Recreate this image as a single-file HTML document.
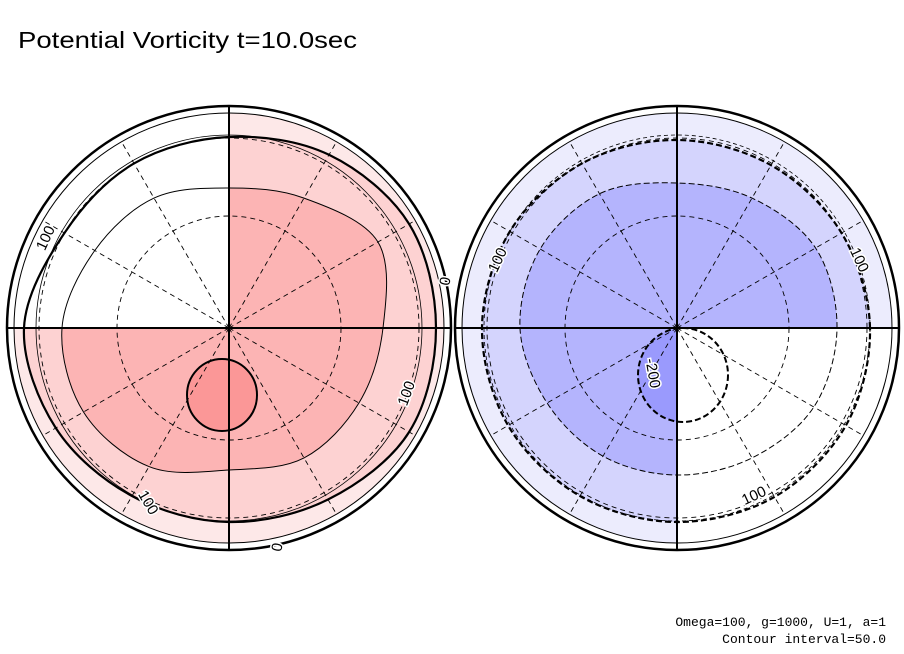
<!DOCTYPE html>
<html><head><meta charset="utf-8"><style>
body{margin:0;background:#fff;width:904px;height:654px;overflow:hidden;font-family:"Liberation Sans",sans-serif}
svg{display:block}
</style></head><body>
<svg id="chart" width="904" height="654" xmlns="http://www.w3.org/2000/svg">
<text x="18" y="48" font-size="23" textLength="339" lengthAdjust="spacingAndGlyphs" font-family="Liberation Sans, sans-serif">Potential Vorticity t=10.0sec</text>
<text x="886" y="626" font-size="13" text-anchor="end" font-family="Liberation Mono, monospace">Omega=100, g=1000, U=1, a=1</text>
<text x="886" y="643" font-size="13" text-anchor="end" font-family="Liberation Mono, monospace">Contour interval=50.0</text>
<g id="left"></g>
<g id="right"></g>
</svg>
<script>
// contour radii (px) sampled every 30 degrees starting east, going counter-clockwise
const angles=[0,30,60,90,120,150,180,210,240,270,300,330];
const leftLevels=[0,100];
const leftC0=[207,208,200,191,190,190,205,200,194,194,198,208];
const leftC100=[154,172,150,140,150,155,167,168,160,142,150,150];
const leftBlob={cx:-7,cy:-67,rx:35,ry:36};
const rightLevels=[0,-100,-200];
const rightC0=[193,190,188,188,190,193,195,195,194,194,195,195];
const rightC100=[160,160,150,145,155,158,157,150,148,147,150,158];
const rightLow={cx:6,cy:-47,rx:45,ry:47};
const NS="http://www.w3.org/2000/svg";
const R=222;
function px(cx,r,a){return cx+r*Math.cos(a*Math.PI/180);}
function py(cy,r,a){return cy-r*Math.sin(a*Math.PI/180);}
function smooth(cx,cy,radii){
  const p=radii.map((r,i)=>[px(cx,r,angles[i]),py(cy,r,angles[i])]);
  const n=p.length;let d=`M${p[0][0]},${p[0][1]}`;
  for(let i=0;i<n;i++){const p0=p[(i-1+n)%n],p1=p[i],p2=p[(i+1)%n],p3=p[(i+2)%n];
    d+=`C${p1[0]+(p2[0]-p0[0])/6},${p1[1]+(p2[1]-p0[1])/6} ${p2[0]-(p3[0]-p1[0])/6},${p2[1]-(p3[1]-p1[1])/6} ${p2[0]},${p2[1]}`;}
  return d+'Z';
}
function el(parent,tag,attrs){const e=document.createElementNS(NS,tag);for(const k in attrs)e.setAttribute(k,attrs[k]);parent.appendChild(e);return e;}
function panel(g,cx,cy,colors,c0,c100,blob,whiteQuad,dashed,labels){
  const cid='clip'+cx;
  const cp=el(g,'clipPath',{id:cid});el(cp,'circle',{cx:cx,cy:cy,r:215});
  const inner=el(g,'g',{'clip-path':`url(#${cid})`});
  let e=el(inner,'circle',{cx:cx,cy:cy,r:215,fill:colors[0]});
  
  
  e=el(inner,'path',{d:smooth(cx,cy,c0),fill:colors[1]});
  
  
  e=el(inner,'path',{d:smooth(cx,cy,c100),fill:colors[2]});
  
  
  const bc=el(g,'clipPath',{id:cid+'b'});
  el(bc,'rect',{x:whiteQuad==='ul'?cx:cx-R,y:cy-R,width:R+blob.rx,height:2*R});
  e=el(inner,'ellipse',{cx:cx+blob.cx,cy:cy-blob.cy,rx:blob.rx,ry:blob.ry,fill:colors[3],'clip-path':whiteQuad==='lr'?`url(#${cid}b)`:''});
  
  
  if(whiteQuad==='ul'){e=el(inner,'rect',{x:cx-R,y:cy-R,width:R,height:R,fill:'#fff'});}
  else{e=el(inner,'rect',{x:cx,y:cy,width:R,height:R,fill:'#fff'});}
  
  
  [112,190].forEach(r=>{const c=el(inner,'circle',{cx:cx,cy:cy,r:r,fill:'none',stroke:'#000','stroke-width':0.9,'stroke-dasharray':'5,4'});
    });
  [30,60,120,150,210,240,300,330].forEach(a=>{const l=el(inner,'line',{x1:cx,y1:cy,x2:px(cx,R,a),y2:py(cy,R,a),stroke:'#000','stroke-width':0.9,'stroke-dasharray':'5,4'});
    });
  const da=dashed?'6,3':'';
  e=el(inner,'path',{d:smooth(cx,cy,c0),fill:'none',stroke:'#000','stroke-width':2.2,'stroke-dasharray':da});
  
  e=el(inner,'path',{d:smooth(cx,cy,c100),fill:'none',stroke:'#000','stroke-width':1,'stroke-dasharray':da});
  
  e=el(inner,'ellipse',{cx:cx+blob.cx,cy:cy-blob.cy,rx:blob.rx,ry:blob.ry,fill:'none',stroke:'#000','stroke-width':2,'stroke-dasharray':da});
  
  el(inner,'circle',{cx:cx,cy:cy,r:193,fill:'none',stroke:'#000','stroke-width':0.8,'stroke-dasharray':dashed?'4,3':''});
  e=el(g,'line',{x1:cx-R,y1:cy,x2:cx+R,y2:cy,stroke:'#000','stroke-width':2});
  
  e=el(g,'line',{x1:cx,y1:cy-R,x2:cx,y2:cy+R,stroke:'#000','stroke-width':2});
  
  el(g,'circle',{cx:cx,cy:cy,r:215,fill:'none',stroke:'#000','stroke-width':1});
  e=el(g,'circle',{cx:cx,cy:cy,r:R,fill:'none',stroke:'#000','stroke-width':2.5});
  
  labels.forEach(L=>{const t=el(g,'text',{x:L[0],y:L[1],'font-size':15,'text-anchor':'middle',transform:`rotate(${L[3]} ${L[0]} ${L[1]})`,fill:'#000',stroke:'#fff','stroke-width':3,'paint-order':'stroke'});
    t.textContent=L[2];});
}
panel(document.getElementById('left'),229,328,['#fde8e8','#fdd2d2','#fcb4b4','#fb9797'],leftC0,leftC100,leftBlob,'ul',false,
  [[50,240,'100',-65],[411,395,'100',-70],[144,505,'100',60],[282,548,'0',-80],[450,282,'0',-80]]);
panel(document.getElementById('right'),677,328,['#ececfd','#d4d4fd','#b4b4fd','#9a9afd'],rightC0,rightC100,rightLow,'lr',true,
  [[502,262,'100',-65],[855,262,'100',65],[756,500,'100',-25],[648,374,'-200',80]]);
</script>
</body></html>
